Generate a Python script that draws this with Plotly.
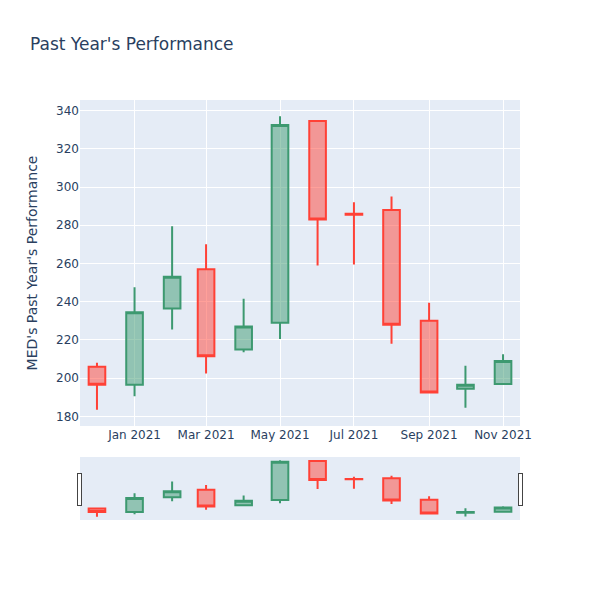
import plotly.graph_objects as go

dates = ["2020-12-01", "2021-01-01", "2021-02-01", "2021-03-01", "2021-04-01", "2021-05-01",
         "2021-06-01", "2021-07-01", "2021-08-01", "2021-09-01", "2021-10-01", "2021-11-01"]
opens = [206, 196.5, 236.5, 257, 215, 229, 334.5, 286, 288, 230, 194.5, 197]
highs = [208, 247.5, 279.5, 270, 241.5, 337, 335, 292, 295, 239.5, 206.5, 212.5]
lows = [183.5, 190.5, 225.5, 202.5, 213.5, 220.5, 259, 259.5, 218, 192, 184.5, 197]
closes = [196.5, 234.5, 253, 211.5, 227, 332.5, 283, 285.5, 228, 192.5, 196.5, 209]

fig = go.Figure(go.Candlestick(x=dates, open=opens, high=highs, low=lows, close=closes))
fig.update_layout(
    title="Past Year's Performance",
    yaxis_title="MED's Past Year's Performance",
    width=600, height=600,
    font=dict(family="DejaVu Sans"),
)
fig.write_html("out.html")
